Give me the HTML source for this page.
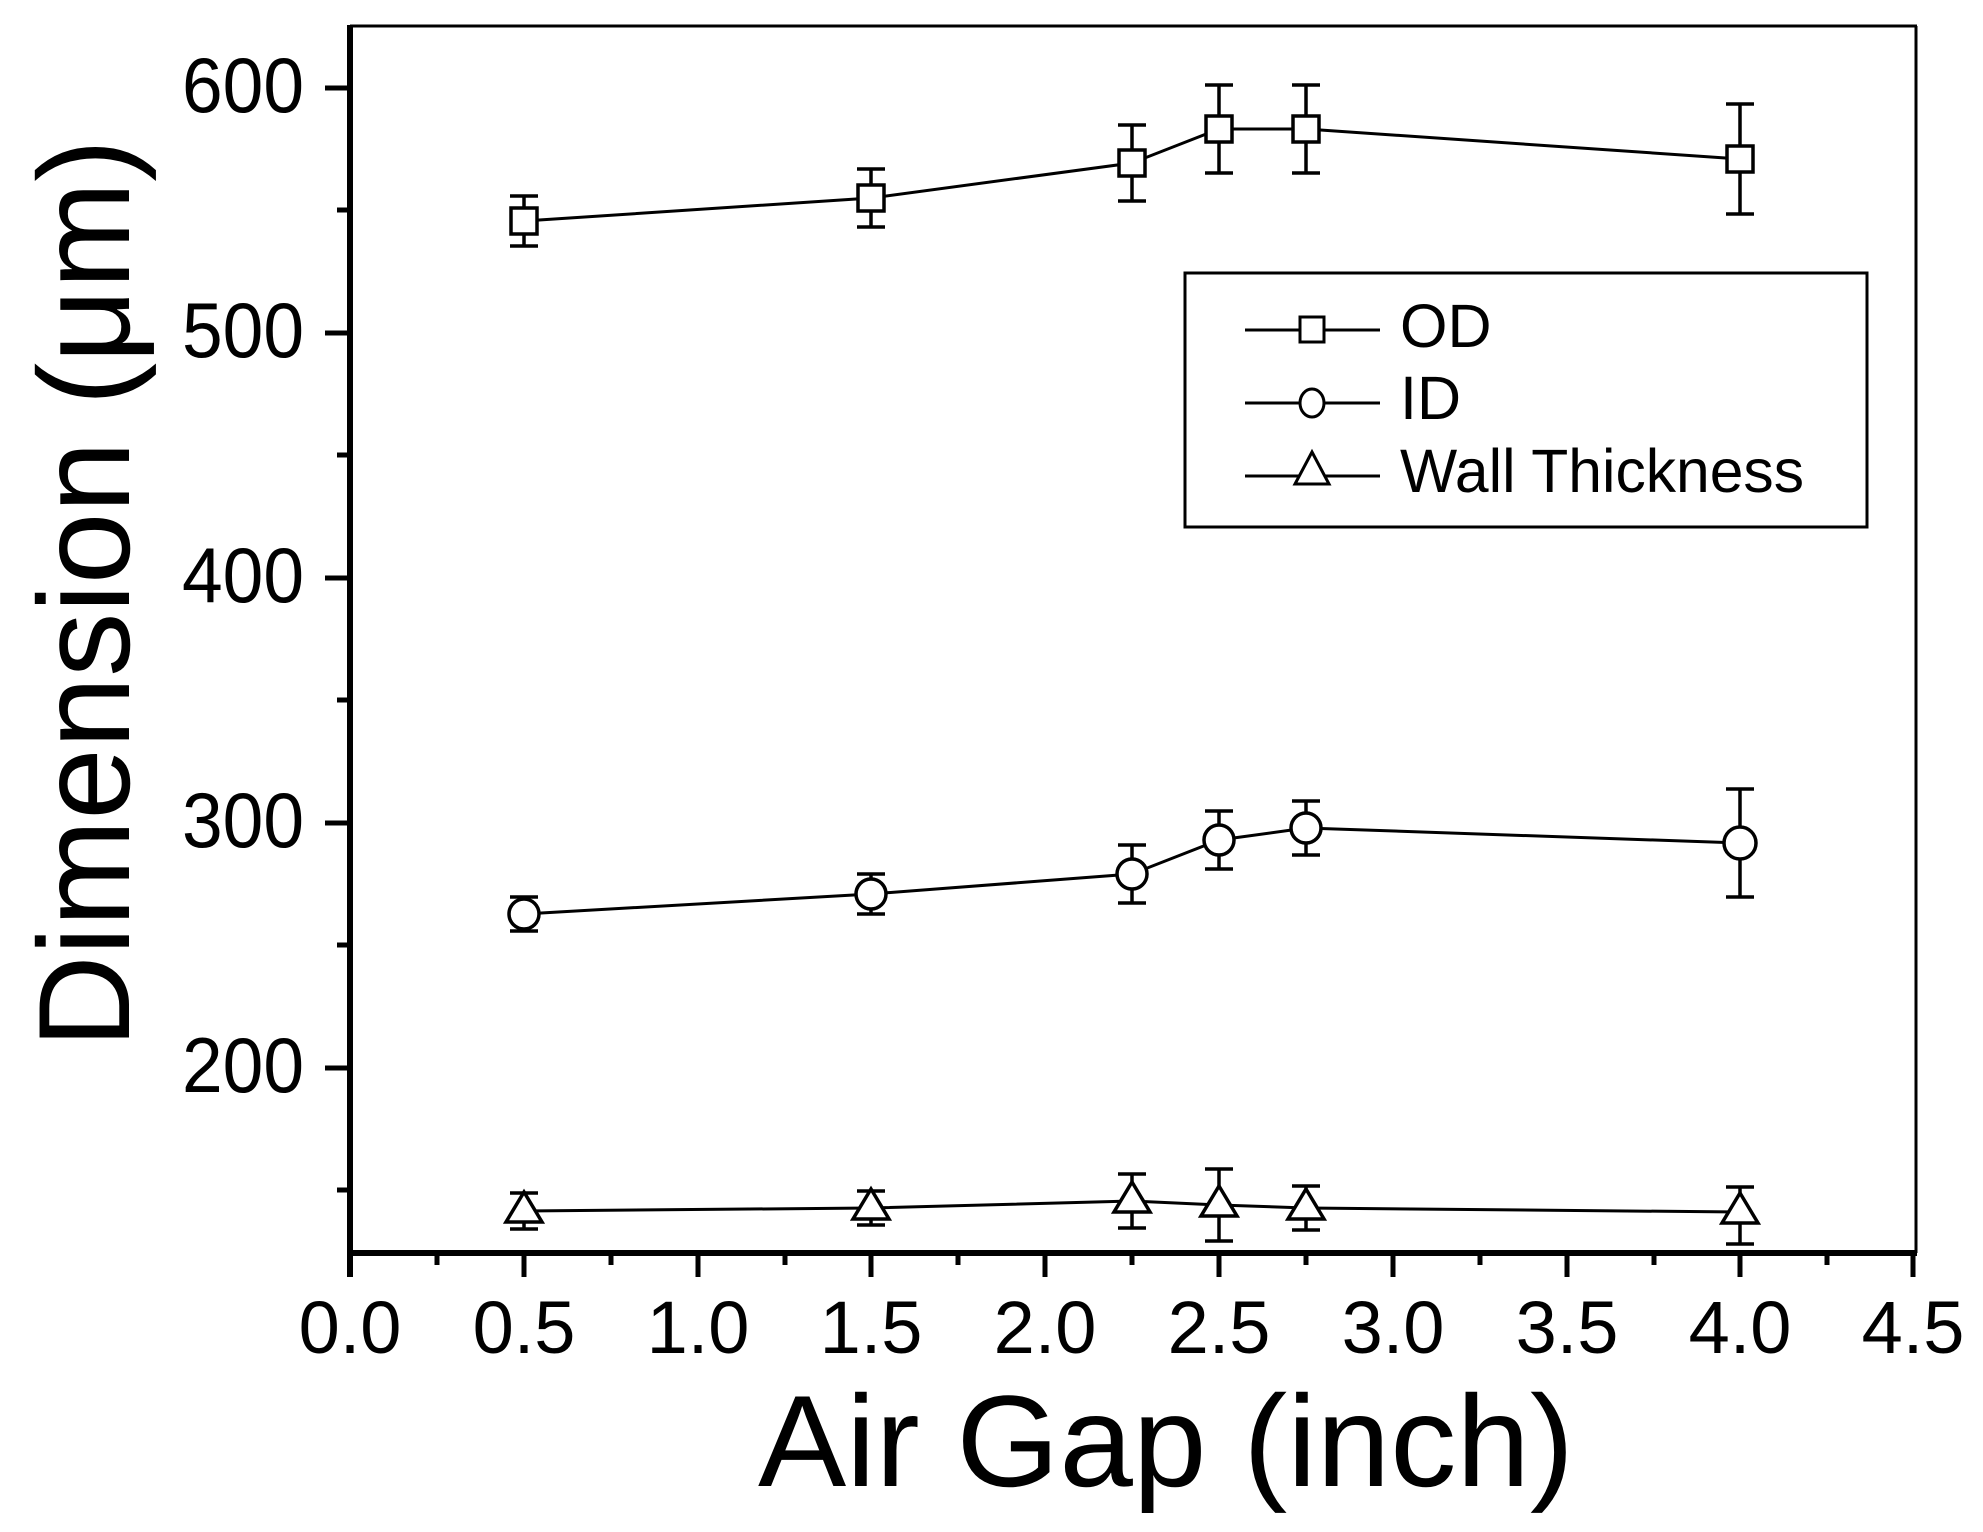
<!DOCTYPE html>
<html><head><meta charset="utf-8"><style>html,body{margin:0;padding:0;background:#fff}svg{display:block}</style></head>
<body>
<svg width="1983" height="1532" viewBox="0 0 1983 1532" xmlns="http://www.w3.org/2000/svg" font-family="Liberation Sans, Arial, sans-serif">
<rect width="1983" height="1532" fill="#fff"/>
<!-- frame -->
<line x1="350" y1="26" x2="1917" y2="26" stroke="#000" stroke-width="3"/>
<line x1="1916" y1="26" x2="1916" y2="1253" stroke="#000" stroke-width="3"/>
<line x1="350" y1="25" x2="350" y2="1277" stroke="#000" stroke-width="6"/>
<line x1="347" y1="1253" x2="1917" y2="1253" stroke="#000" stroke-width="6"/>
<!-- y ticks -->
<g stroke="#000" stroke-width="5">
<line x1="325" y1="88" x2="350" y2="88"/><line x1="337" y1="210" x2="350" y2="210"/>
<line x1="325" y1="333" x2="350" y2="333"/><line x1="337" y1="455" x2="350" y2="455"/>
<line x1="325" y1="578" x2="350" y2="578"/><line x1="337" y1="700" x2="350" y2="700"/>
<line x1="325" y1="823" x2="350" y2="823"/><line x1="337" y1="945" x2="350" y2="945"/>
<line x1="325" y1="1068" x2="350" y2="1068"/><line x1="337" y1="1190" x2="350" y2="1190"/>
</g>
<!-- x ticks -->
<g stroke="#000" stroke-width="5">
<line x1="350" y1="1253" x2="350" y2="1277"/><line x1="437" y1="1253" x2="437" y2="1265"/>
<line x1="524" y1="1253" x2="524" y2="1277"/><line x1="611" y1="1253" x2="611" y2="1265"/>
<line x1="698" y1="1253" x2="698" y2="1277"/><line x1="785" y1="1253" x2="785" y2="1265"/>
<line x1="871" y1="1253" x2="871" y2="1277"/><line x1="958" y1="1253" x2="958" y2="1265"/>
<line x1="1045" y1="1253" x2="1045" y2="1277"/><line x1="1132" y1="1253" x2="1132" y2="1265"/>
<line x1="1219" y1="1253" x2="1219" y2="1277"/><line x1="1306" y1="1253" x2="1306" y2="1265"/>
<line x1="1393" y1="1253" x2="1393" y2="1277"/><line x1="1480" y1="1253" x2="1480" y2="1265"/>
<line x1="1567" y1="1253" x2="1567" y2="1277"/><line x1="1654" y1="1253" x2="1654" y2="1265"/>
<line x1="1740" y1="1253" x2="1740" y2="1277"/><line x1="1827" y1="1253" x2="1827" y2="1265"/>
<line x1="1913" y1="1253" x2="1913" y2="1277"/>
</g>
<!-- y labels -->
<g font-size="78" text-anchor="end">
<text x="304" y="112" textLength="122" lengthAdjust="spacingAndGlyphs">600</text>
<text x="304" y="357" textLength="122" lengthAdjust="spacingAndGlyphs">500</text>
<text x="304" y="602" textLength="122" lengthAdjust="spacingAndGlyphs">400</text>
<text x="304" y="847" textLength="122" lengthAdjust="spacingAndGlyphs">300</text>
<text x="304" y="1092" textLength="122" lengthAdjust="spacingAndGlyphs">200</text>
</g>
<!-- x labels -->
<g font-size="74" text-anchor="middle">
<text x="350" y="1353">0.0</text><text x="524" y="1353">0.5</text><text x="698" y="1353">1.0</text>
<text x="871" y="1353">1.5</text><text x="1045" y="1353">2.0</text><text x="1219" y="1353">2.5</text>
<text x="1393" y="1353">3.0</text><text x="1567" y="1353">3.5</text><text x="1740" y="1353">4.0</text>
<text x="1913" y="1353">4.5</text>
</g>
<!-- axis titles -->
<text x="758" y="1486" font-size="130" textLength="816" lengthAdjust="spacingAndGlyphs">Air Gap (inch)</text>
<text transform="translate(129,1048) rotate(-90)" font-size="130" textLength="909" lengthAdjust="spacingAndGlyphs">Dimension (μm)</text>
<!-- series lines -->
<g stroke="#000" stroke-width="3" fill="none">
<polyline points="524,221 871,198 1132,163 1219,129 1306,129 1740,159"/>
<polyline points="524,914 871,894 1132,874 1219,840 1306,828 1740,843"/>
<polyline points="524,1211 871,1208 1132,1201 1219,1205 1306,1208 1740,1212"/>
</g>
<!-- error bars -->
<g stroke="#000" stroke-width="3.5">
<path d="M524,196V246M510,196H538M510,246H538"/>
<path d="M871,169V227M857,169H885M857,227H885"/>
<path d="M1132,125V201M1118,125H1146M1118,201H1146"/>
<path d="M1219,85V173M1205,85H1233M1205,173H1233"/>
<path d="M1306,85V173M1292,85H1320M1292,173H1320"/>
<path d="M1740,104V214M1726,104H1754M1726,214H1754"/>
<path d="M524,897V931M510,897H538M510,931H538"/>
<path d="M871,874V914M857,874H885M857,914H885"/>
<path d="M1132,845V903M1118,845H1146M1118,903H1146"/>
<path d="M1219,811V869M1205,811H1233M1205,869H1233"/>
<path d="M1306,801V855M1292,801H1320M1292,855H1320"/>
<path d="M1740,789V897M1726,789H1754M1726,897H1754"/>
<path d="M524,1193V1229M510,1193H538M510,1229H538"/>
<path d="M871,1191V1225M857,1191H885M857,1225H885"/>
<path d="M1132,1174V1228M1118,1174H1146M1118,1228H1146"/>
<path d="M1219,1169V1241M1205,1169H1233M1205,1241H1233"/>
<path d="M1306,1186V1230M1292,1186H1320M1292,1230H1320"/>
<path d="M1740,1187V1244M1726,1187H1754M1726,1244H1754"/>
</g>
<!-- markers -->
<g stroke="#000" stroke-width="3.5" fill="#fff">
<rect x="511" y="208" width="26" height="26"/><rect x="858" y="185" width="26" height="26"/>
<rect x="1119" y="150" width="26" height="26"/><rect x="1206" y="116" width="26" height="26"/>
<rect x="1293" y="116" width="26" height="26"/><rect x="1727" y="146" width="26" height="26"/>
<circle cx="524" cy="914" r="15"/><circle cx="871" cy="894" r="15"/><circle cx="1132" cy="874" r="15"/>
<circle cx="1219" cy="840" r="15"/><circle cx="1306" cy="828" r="15"/><circle cx="1740" cy="843" r="16"/>
<polygon points="524,1192 506,1222 542,1222"/><polygon points="871,1189 853,1219 889,1219"/>
<polygon points="1132,1182 1114,1212 1150,1212"/><polygon points="1219,1186 1201,1216 1237,1216"/>
<polygon points="1306,1189 1288,1219 1324,1219"/><polygon points="1740,1193 1722,1223 1758,1223"/>
</g>
<!-- legend -->
<rect x="1185" y="273" width="682" height="254" fill="#fff" stroke="#000" stroke-width="3"/>
<g stroke="#000" stroke-width="3" fill="#fff">
<line x1="1245" y1="330" x2="1380" y2="330"/><line x1="1245" y1="403" x2="1380" y2="403"/><line x1="1245" y1="476" x2="1380" y2="476"/>
<rect x="1300" y="317" width="24" height="25"/>
<ellipse cx="1312" cy="403" rx="12" ry="14"/>
<polygon points="1312,452 1295,484 1329,484"/>
</g>
<g font-size="61">
<text x="1400" y="347">OD</text>
<text x="1400" y="419">ID</text>
<text x="1400" y="492" textLength="404" lengthAdjust="spacingAndGlyphs">Wall Thickness</text>
</g>
</svg>
</body></html>
